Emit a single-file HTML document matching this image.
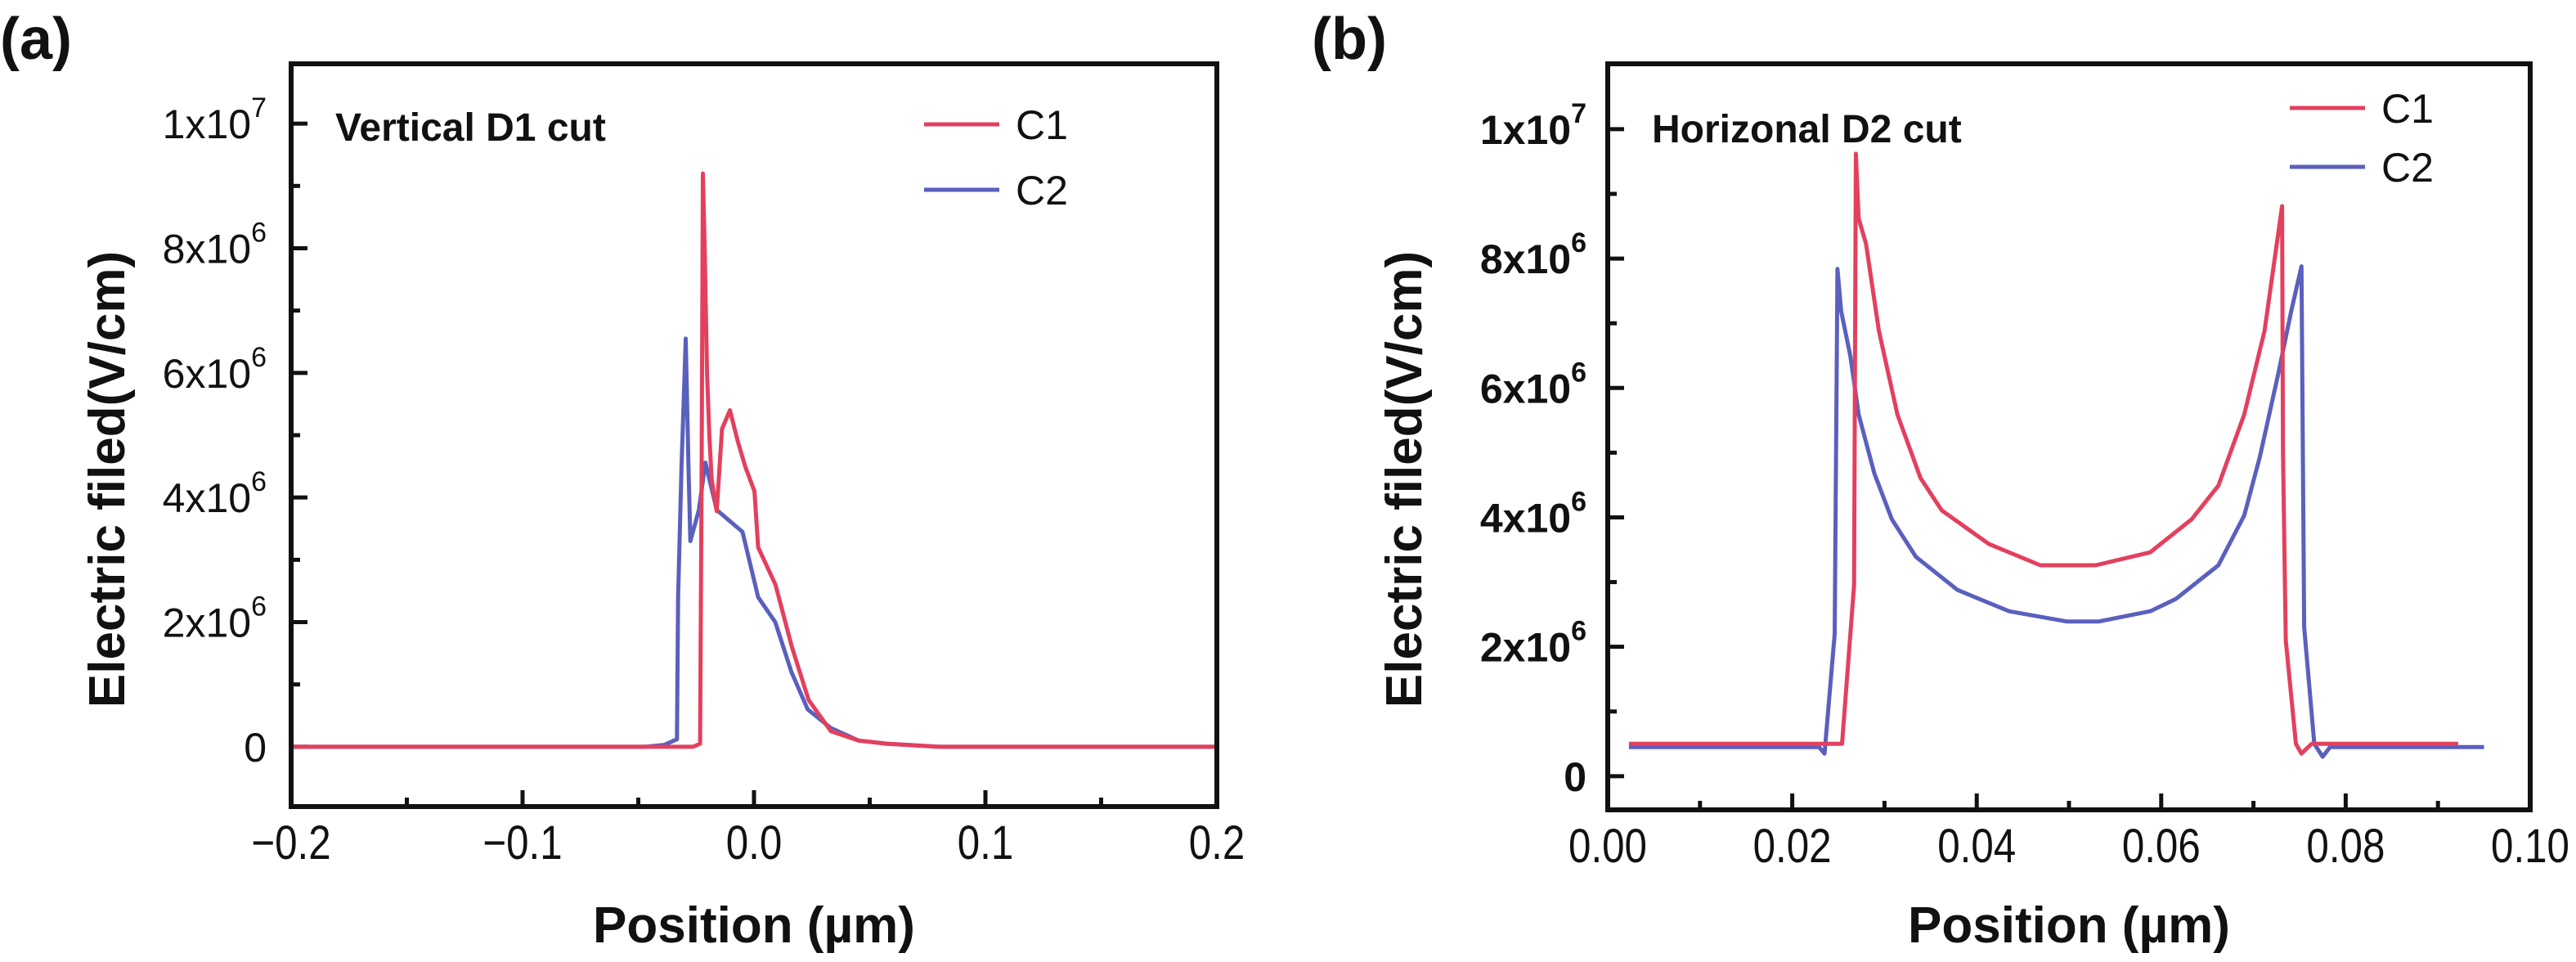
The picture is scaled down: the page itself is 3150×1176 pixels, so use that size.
<!DOCTYPE html>
<html><head><meta charset="utf-8">
<style>
html,body{margin:0;padding:0;background:#fff;}
svg{display:block;font-family:"Liberation Sans",Arial,sans-serif;}
</style></head>
<body>
<svg id="fig" width="3150" height="1176" viewBox="0 0 3150 1176" xmlns="http://www.w3.org/2000/svg"></svg>
<script>
// Panel (a) data (x in µm, y in 1e6 V/cm)
const aC1x = [-0.2,-0.0318,-0.0263,-0.0233,-0.0226,-0.0221,-0.0213,-0.0203,-0.0193,-0.0183,-0.0161,-0.0138,-0.0104,-0.007,-0.0038,0.0002,0.0018,0.0093,0.0164,0.0236,0.0332,0.0452,0.0572,0.08,0.2];
const aC1y = [0,0,0,0.05,4.5,9.2,8.0,6.0,5.0,4.3,3.78,5.1,5.4,4.9,4.5,4.1,3.2,2.6,1.6,0.75,0.25,0.1,0.05,0,0];
const aC2x = [-0.2,-0.0468,-0.0388,-0.0333,-0.0328,-0.0313,-0.0298,-0.0295,-0.0283,-0.0275,-0.0238,-0.021,-0.0161,-0.005,0.0018,0.0092,0.0162,0.0232,0.0332,0.0452,0.0572,0.08,0.2];
const aC2y = [0,0,0.03,0.12,2.4,4.5,6.2,6.55,4.5,3.3,3.8,4.56,3.8,3.45,2.4,2.0,1.2,0.6,0.3,0.1,0.05,0,0];
// Panel (b) data
const bC1x = [0.0023,0.0254,0.0267,0.0269,0.0272,0.0280,0.0294,0.0314,0.0339,0.0362,0.0413,0.0469,0.0529,0.0588,0.0633,0.0662,0.0690,0.0712,0.0731,0.0732,0.0735,0.0746,0.0752,0.0763,0.0922];
const bC1y = [0.5,0.5,2.95,9.62,8.62,8.23,6.88,5.59,4.61,4.11,3.59,3.26,3.26,3.46,3.97,4.49,5.59,6.88,8.81,5.0,2.1,0.5,0.35,0.5,0.5];
const bC2x = [0.0023,0.0229,0.0235,0.0246,0.0249,0.0253,0.0263,0.0272,0.0289,0.0308,0.0334,0.0379,0.0435,0.0498,0.0532,0.0588,0.0616,0.0662,0.0690,0.0707,0.0727,0.0741,0.0752,0.0755,0.0766,0.0775,0.0783,0.0950];
const bC2y = [0.45,0.45,0.35,2.2,7.84,7.19,6.49,5.59,4.68,3.97,3.39,2.88,2.55,2.39,2.39,2.55,2.74,3.26,4.03,4.94,6.23,7.19,7.88,2.3,0.5,0.3,0.45,0.45];
const aXTicks = [-0.2,-0.1,0.0,0.1,0.2];
const aXTickLabels = ["\u22120.2","\u22120.1","0.0","0.1","0.2"];
const bXTicks = [0,0.02,0.04,0.06,0.08,0.10];
const bXTickLabels = ["0.00","0.02","0.04","0.06","0.08","0.10"];
const yTicks = [0,2,4,6,8,10];
const yTickMant = ["0","2x10","4x10","6x10","8x10","1x10"];
const yTickExp = ["","6","6","6","6","7"];

const NS="http://www.w3.org/2000/svg";
const svg=document.getElementById('fig');
function mk(tag,attrs,parent){const e=document.createElementNS(NS,tag);for(const k in attrs)e.setAttribute(k,attrs[k]);(parent||svg).appendChild(e);return e;}
const RED="#e3405e", BLUE="#5a60bd";

function panel(p){
  const g=mk('g',{});
  
  
  const sx=v=>p.L+(v-p.x0)/(p.x1-p.x0)*(p.R-p.L);
  const sy=v=>p.B-(v-p.y0)/(p.y1-p.y0)*(p.B-p.T);
  const tg=mk('g',{},g);
  
  
  for(let i=0;i<yTicks.length;i++){
    const y=sy(yTicks[i]);
    mk('line',{x1:p.L,x2:p.L+20,y1:y,y2:y,stroke:'#111','stroke-width':5},tg);
    if(i<yTicks.length-1){const ym=sy(yTicks[i]+1);mk('line',{x1:p.L,x2:p.L+11,y1:ym,y2:ym,stroke:'#111','stroke-width':5},tg);}
    const lg=mk('g',{transform:'translate('+(p.L-p.ylGap)+','+(y+18)+') scale('+p.ylScale+',1)'},tg);
    const t=mk('text',{x:0,y:0,'text-anchor':'end','font-size':p.ylSize,'font-weight':p.ylWeight,fill:'#111'},lg);
    
    
    t.textContent=yTickMant[i];
    if(yTickExp[i]){const s=mk('tspan',{dy:-26,'font-size':34},t);s.textContent=yTickExp[i];}
  }
  const xg=mk('g',{},g);
  
  
  for(let i=0;i<p.xt.length;i++){
    const x=sx(p.xt[i]);
    mk('line',{x1:x,x2:x,y1:p.B,y2:p.B-20,stroke:'#111','stroke-width':5},xg);
    if(i<p.xt.length-1){const xm=sx((p.xt[i]+p.xt[i+1])/2);mk('line',{x1:xm,x2:xm,y1:p.B,y2:p.B-11,stroke:'#111','stroke-width':5},xg);}
    const lg=mk('g',{transform:'translate('+x+','+(p.B+p.xlDy)+') scale('+p.xlScale+',1)'},xg);
    const t=mk('text',{x:0,y:0,'text-anchor':'middle','font-size':p.xlSize,fill:'#111'},lg);
    
    
    t.textContent=p.xl[i];
  }
  const series=[[p.c1x,p.c1y,RED,'c1'],[p.c2x,p.c2y,BLUE,'c2']];
  for(const s of [series[1],series[0]]){
    const d=s[0].map((v,i)=>(i?'L':'M')+sx(v).toFixed(1)+' '+sy(s[1][i]).toFixed(1)).join(' ');
    const pth=mk('path',{d:d,fill:'none',stroke:s[2],'stroke-width':5,'stroke-linejoin':'round'},g);
    
    
  }
  const fr=mk('rect',{x:p.L,y:p.T,width:p.R-p.L,height:p.B-p.T,fill:'none',stroke:'#111','stroke-width':6},g);
  
  
  for(let k=0;k<2;k++){
    const lg=mk('g',{},g);
    
    
    const ly=p.legY+k*p.legDy;
    mk('line',{x1:p.legX,x2:p.legX+92,y1:ly,y2:ly,stroke:k?BLUE:RED,'stroke-width':5},lg);
    const t=mk('text',{x:p.legX+112,y:ly+18,'font-size':50,fill:'#111'},lg);
    t.textContent='C'+(k+1);
  }
  const ann=mk('text',{x:p.annX,y:p.annY,'font-size':48,'font-weight':'bold',fill:'#111'},g);
  
  
  ann.textContent=p.ann;
  const yt=mk('text',{x:0,y:0,'font-size':62,'font-weight':'bold',fill:'#111','text-anchor':'middle',transform:'translate('+p.ytX+',586) rotate(-90)'},g);
  
  
  yt.textContent='Electric filed(V/cm)';
  const xt=mk('text',{x:(p.L+p.R)/2,y:1152,'font-size':62,'font-weight':'bold',fill:'#111','text-anchor':'middle'},g);
  
  
  xt.textContent='Position (\u00b5m)';
  const pl=mk('text',{x:p.plX,y:72,'font-size':72,'font-weight':'bold',fill:'#111'},g);
  
  
  pl.textContent='('+p.id+')';
}
panel({id:'a',L:356,R:1488,T:78,B:986,x0:-0.2,x1:0.2,y0:-0.96,y1:10.96,xt:aXTicks,xl:aXTickLabels,
  c1x:aC1x,c1y:aC1y,c2x:aC2x,c2y:aC2y,legX:1130,legY:152,legDy:80,annX:410,annY:172,ann:'Vertical D1 cut',ytX:152,plX:0,
  ylGap:30,ylScale:1,ylSize:50,ylWeight:'normal',xlDy:64,xlScale:0.85,xlSize:58});
panel({id:'b',L:1966,R:3094,T:78,B:990,x0:0,x1:0.1,y0:-0.52,y1:11.01,xt:bXTicks,xl:bXTickLabels,
  c1x:bC1x,c1y:bC1y,c2x:bC2x,c2y:bC2y,legX:2800,legY:132,legDy:72,annX:2020,annY:174,ann:'Horizonal D2 cut',ytX:1738,plX:1604,
  ylGap:26,ylScale:1,ylSize:50,ylWeight:'bold',xlDy:64,xlScale:0.85,xlSize:58});
</script>
</body></html>
